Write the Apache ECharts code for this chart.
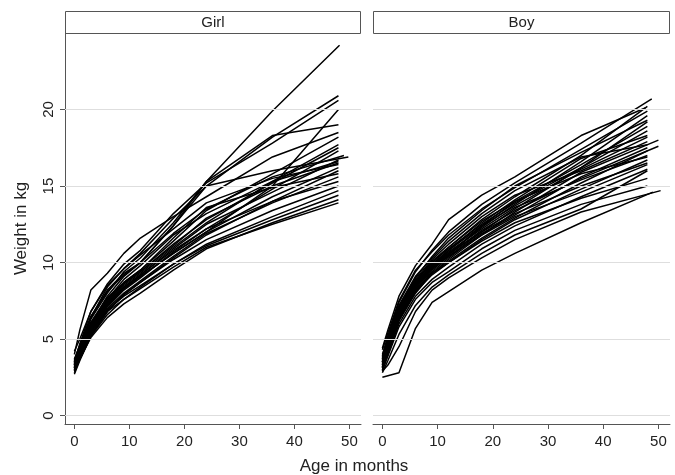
<!DOCTYPE html>
<html>
<head>
<meta charset="utf-8">
<script src="https://cdn.jsdelivr.net/npm/echarts@6/dist/echarts.min.js"></script>
<style>html,body{margin:0;padding:0;background:#fff}#c{width:675px;height:475px}</style>
</head>
<body>
<div id="c"></div>
<script>
// Measurement ages (months)
const AGES = [0, 1, 3, 6, 9, 12, 18, 24, 36, 48];
const X_TICKS = [0, 10, 20, 30, 40, 50];
const Y_TICKS = [0, 5, 10, 15, 20];
const PANELS = ['Girl', 'Boy'];

// Girl weights (kg) at AGES
const GIRL_W = [
  [3.6, 4.4, 6.0, 7.8, 9.1, 10.0, 12.4, 15.3, 19.9, 24.2],
  [3.4, 4.5, 6.4, 8.4, 9.6, 10.6, 12.9, 15.0, 18.2, 20.9],
  [3.5, 4.7, 6.8, 8.6, 9.9, 10.8, 13.2, 15.2, 17.8, 20.6],
  [3.2, 4.0, 5.6, 7.2, 8.3, 9.1, 10.6, 12.0, 15.0, 20.0],
  [3.3, 4.4, 6.3, 8.0, 9.4, 10.3, 12.6, 15.3, 18.3, 19.0],
  [4.0, 5.6, 8.2, 9.3, 10.6, 11.6, 13.0, 14.3, 16.9, 18.5],
  [3.1, 4.0, 5.8, 7.6, 8.7, 9.5, 11.4, 13.4, 15.8, 18.2],
  [3.3, 4.1, 5.7, 7.4, 8.5, 9.3, 11.0, 12.6, 15.3, 17.7],
  [2.9, 3.8, 5.5, 7.1, 8.2, 9.0, 10.7, 12.2, 14.8, 17.3],
  [3.6, 4.6, 6.5, 8.1, 9.2, 10.0, 12.4, 15.0, 16.0, 16.9],
  [3.0, 3.9, 5.6, 7.3, 8.4, 9.2, 10.9, 12.5, 14.6, 16.7],
  [3.4, 4.3, 6.0, 7.5, 8.6, 9.4, 11.1, 12.9, 15.0, 16.5],
  [3.2, 4.0, 5.7, 7.2, 8.3, 9.1, 10.6, 12.0, 14.3, 16.2],
  [2.7, 3.6, 5.2, 6.8, 7.9, 8.7, 10.3, 11.8, 14.0, 16.0],
  [3.5, 4.4, 6.1, 7.7, 8.7, 9.5, 11.6, 13.6, 14.9, 15.8],
  [3.1, 3.9, 5.5, 7.0, 8.0, 8.8, 10.4, 11.9, 13.9, 15.6],
  [3.3, 4.2, 5.8, 7.4, 8.4, 9.2, 10.8, 12.2, 14.0, 15.3],
  [3.0, 3.8, 5.4, 6.9, 7.9, 8.7, 10.2, 11.5, 13.4, 15.0],
  [2.8, 3.7, 5.2, 6.6, 7.6, 8.4, 9.9, 11.2, 13.0, 14.7],
  [3.2, 4.0, 5.5, 6.9, 7.8, 8.5, 9.9, 11.1, 12.8, 14.4],
  [2.9, 3.7, 5.1, 6.4, 7.3, 8.0, 9.5, 10.9, 12.6, 14.1],
  [3.0, 3.8, 5.3, 6.8, 7.6, 8.3, 9.7, 11.0, 12.5, 13.9],
  [3.7, 4.6, 6.4, 8.2, 9.3, 10.0, 11.9, 13.5, 15.6, 17.0],
  [3.4, 4.2, 5.9, 7.5, 8.6, 9.4, 11.2, 12.8, 15.2, 17.5],
  [3.1, 4.1, 5.9, 7.6, 8.9, 9.8, 11.8, 13.2, 15.3, 16.6],
  [4.2, 5.0, 6.8, 8.5, 9.6, 10.5, 12.2, 13.9, 15.5, 16.4]
];
// Age at last visit for each girl
const GIRL_LAST_AGE = [48.2, 48, 48, 48, 48, 48, 48, 48, 48, 49.8, 48, 48, 48, 48, 48, 48, 48, 48, 48, 48, 48, 48, 49, 48, 48, 48];

// Boy weights (kg) at AGES
const BOY_W = [
  [2.5, 2.6, 2.8, 5.7, 7.4, 8.1, 9.5, 10.6, 12.6, 14.6],
  [2.9, 3.3, 4.5, 6.8, 8.2, 9.0, 10.3, 11.5, 13.3, 14.7],
  [3.8, 4.8, 6.9, 8.8, 10.0, 10.9, 12.5, 13.9, 16.2, 18.6],
  [4.4, 5.6, 7.8, 9.8, 11.2, 12.8, 14.4, 15.6, 18.3, 20.1],
  [3.9, 5.2, 7.4, 9.4, 10.8, 12.0, 13.8, 15.2, 17.8, 20.7],
  [3.5, 4.7, 6.8, 8.7, 10.0, 11.0, 12.8, 14.3, 17.0, 20.2],
  [3.6, 4.6, 6.6, 8.5, 9.7, 10.6, 12.3, 13.8, 16.6, 19.6],
  [3.2, 4.3, 6.4, 8.3, 9.5, 10.4, 12.0, 13.5, 16.2, 19.2],
  [3.4, 4.5, 6.5, 8.4, 9.6, 10.5, 12.4, 14.0, 16.4, 18.9],
  [3.0, 4.1, 6.2, 8.0, 9.3, 10.2, 11.8, 13.3, 15.9, 18.0],
  [3.7, 4.9, 7.0, 8.9, 10.2, 11.2, 13.0, 14.4, 16.0, 17.9],
  [3.3, 4.4, 6.5, 8.4, 9.6, 10.5, 12.1, 13.4, 15.5, 17.6],
  [3.1, 4.2, 6.2, 8.1, 9.3, 10.1, 11.6, 12.9, 15.2, 17.3],
  [3.5, 4.6, 6.7, 8.6, 9.8, 10.7, 12.2, 13.6, 15.4, 17.0],
  [3.2, 4.3, 6.3, 8.1, 9.2, 10.0, 11.5, 12.8, 14.8, 16.7],
  [3.6, 4.7, 6.8, 8.6, 9.8, 10.6, 12.0, 13.2, 15.0, 16.5],
  [2.9, 4.0, 6.0, 7.8, 8.9, 9.7, 11.2, 12.4, 14.3, 16.1],
  [3.4, 4.4, 6.4, 8.2, 9.3, 10.0, 11.4, 12.6, 14.2, 15.5],
  [3.0, 3.9, 5.8, 7.6, 8.7, 9.4, 10.9, 12.1, 13.8, 15.0],
  [3.3, 4.5, 6.6, 8.5, 9.8, 10.8, 12.6, 14.1, 16.8, 18.3],
  [4.0, 5.1, 7.2, 9.1, 10.3, 11.4, 13.2, 14.7, 16.9, 17.7],
  [3.1, 4.2, 6.3, 8.2, 9.4, 10.3, 11.9, 13.1, 15.6, 17.5],
  [3.8, 5.0, 7.1, 9.0, 10.4, 11.6, 13.4, 15.0, 17.2, 19.3],
  [2.8, 3.6, 5.3, 7.2, 8.4, 9.2, 10.6, 11.8, 13.5, 16.0],
  [3.5, 4.8, 7.0, 8.8, 10.1, 11.0, 12.7, 14.0, 15.8, 16.9],
  [3.2, 4.4, 6.6, 8.6, 9.9, 10.8, 12.4, 13.7, 16.1, 18.2],
  [4.3, 5.4, 7.5, 9.5, 10.7, 11.8, 13.5, 14.9, 17.4, 19.9],
  [3.7, 4.7, 6.7, 8.6, 9.7, 10.4, 11.8, 13.0, 14.6, 16.4]
];
const BOY_LAST_AGE = [49, 50.4, 48, 47.6, 48.8, 48, 48, 48, 48, 50, 48, 50, 48, 48, 48, 48, 48, 48, 48, 48, 48, 48, 48, 48, 48, 48, 48, 48];

const chart = echarts.init(document.getElementById('c'), null, {renderer: 'canvas'});
const FONT = 'Liberation Sans, Arial, sans-serif';
const AXIS_COLOR = '#555';
const TEXT_COLOR = '#222';

const grids = [
  {left: 65, top: 33, width: 296, height: 391},
  {left: 373, top: 33, width: 297, height: 391}
];

const xAxes = [0, 1].map(i => ({
  type: 'value', gridIndex: i, min: -1.7, max: 52.1,
  axisLine: {show: true, onZero: false, lineStyle: {color: AXIS_COLOR, width: 1}},
  axisTick: {show: true, length: 5, customValues: X_TICKS, lineStyle: {color: AXIS_COLOR}},
  axisLabel: {show: true, customValues: X_TICKS, margin: 10, color: TEXT_COLOR, fontSize: 15, fontFamily: FONT},
  splitLine: {show: false}
}));

const yAxes = [0, 1].map(i => ({
  type: 'value', gridIndex: i, min: -0.55, max: 25,
  name: i === 0 ? 'Weight in kg' : '', nameLocation: 'middle', nameGap: 35,
  nameTextStyle: {color: TEXT_COLOR, fontSize: 17, fontFamily: FONT},
  axisLine: {show: i === 0, onZero: false, lineStyle: {color: AXIS_COLOR, width: 1}},
  axisTick: {show: i === 0, length: 5, customValues: Y_TICKS, lineStyle: {color: AXIS_COLOR}},
  axisLabel: {show: i === 0, customValues: Y_TICKS, rotate: 90, margin: 9, color: TEXT_COLOR, fontSize: 15, fontFamily: FONT},
  splitLine: {show: false}
}));

const series = [];
[GIRL_W, BOY_W].forEach((rows, p) => {
  // reference grid lines at tick values
  series.push({
    type: 'line', xAxisIndex: p, yAxisIndex: p, data: [], silent: true, z: 1,
    markLine: {
      silent: true, symbol: ['none', 'none'], label: {show: false}, animation: false,
      lineStyle: {color: '#dedede', width: 1.2, type: 'solid'},
      data: Y_TICKS.map(v => ({yAxis: v}))
    }
  });
  const lastAges = p === 0 ? GIRL_LAST_AGE : BOY_LAST_AGE;
  rows.forEach((w, k) => {
    series.push({
      type: 'line', xAxisIndex: p, yAxisIndex: p, z: 3,
      showSymbol: false, symbol: 'none', silent: true,
      lineStyle: {color: '#000', width: 1.5},
      data: w.map((v, i) => [i === w.length - 1 ? lastAges[k] : AGES[i], v])
    });
  });
});

const graphic = [];
PANELS.forEach((name, i) => {
  const g = grids[i];
  graphic.push({
    type: 'rect', shape: {x: g.left + 0.5, y: 11.5, width: g.width - 1, height: 22},
    style: {fill: '#fff', stroke: '#555', lineWidth: 1}
  });
  graphic.push({
    type: 'text', x: g.left + g.width / 2, y: 22.5,
    style: {text: name, fill: TEXT_COLOR, font: '15px ' + FONT, align: 'center', verticalAlign: 'middle'}
  });
});
graphic.push({
  type: 'text', x: 354, y: 466,
  style: {text: 'Age in months', fill: TEXT_COLOR, font: '17px ' + FONT, align: 'center', verticalAlign: 'middle'}
});

chart.setOption({
  animation: false,
  backgroundColor: '#fff',
  grid: grids,
  xAxis: xAxes,
  yAxis: yAxes,
  series: series,
  graphic: graphic
});
</script>
</body>
</html>
